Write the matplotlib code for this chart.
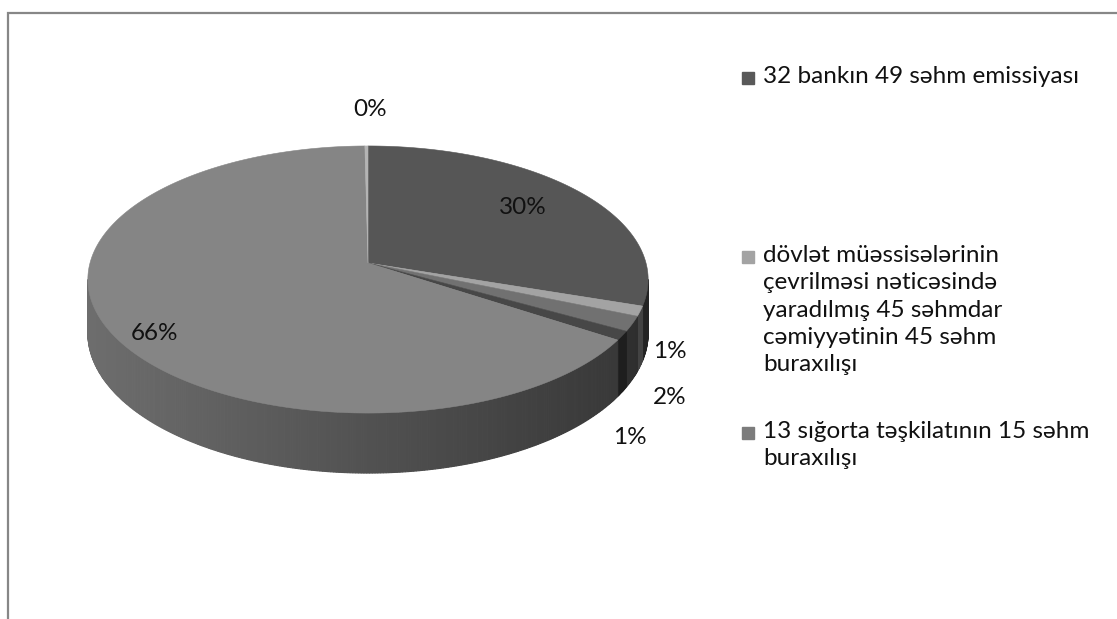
import numpy as np
import matplotlib
matplotlib.use("Agg")
import matplotlib.pyplot as plt
from matplotlib.patches import Polygon

plt.rcParams['font.family'] = ['Lato', 'Open Sans', 'DejaVu Sans']

# slice shares in percent, clockwise from 12 o'clock
shares = [30.1, 1.2, 1.8, 1.1, 65.6, 0.2]
top_colors = ['#565656', '#a3a3a3', '#717171', '#474747', '#858585', '#b4b4b4']

legend_labels = [
    "32 bankın 49 səhm emissiyası",
    "dövlət müəssisələrinin\nçevrilməsi nəticəsində\nyaradılmış 45 səhmdar\ncəmiyyətinin 45 səhm\nburaxılışı",
    "13 sığorta təşkilatının 15 səhm\nburaxılışı",
]
legend_colors = ['#595959', '#a3a3a3', '#7c7c7c']

# where each percentage label sits (pixel coords)
label_xy = [(523, 207), (670, 352), (670, 397), (630, 437), (155, 333), (370, 110)]
legend_y = [78, 257, 433]

# tilted disc with a touch of perspective
CX, CY = 368, 263
A, B, K, H = 278, 131.5, 0.1236, 52.6


def project(theta, depth=0.0):
    t = np.radians(theta)
    u, v = np.sin(t), np.cos(t)
    d = 1 + K * v
    return CX + A * u / d, CY + (-B * v + depth) / d


def shade(color, x):
    f = 0.82 - 0.42 * (x - 90) / 560
    f = max(f, 0.38)
    rgb = np.array(matplotlib.colors.to_rgb(color)) * f
    return tuple(rgb)


fig = plt.figure(figsize=(11.17, 6.19), dpi=100)
ax = fig.add_axes([0, 0, 1, 1])
ax.set_xlim(0, 1117)
ax.set_ylim(619, 0)
ax.axis('off')

# chart frame
ax.plot([8, 8, 1130], [640, 13, 13], color='#878787', lw=1.6, solid_joinstyle='miter')

bounds = np.concatenate([[0], np.cumsum(shares)]) * 3.6
vis0 = np.degrees(np.arccos(-K))
vis1 = 360 - vis0

# outer wall, front half only
for i, col in enumerate(top_colors):
    a0, a1 = max(bounds[i], vis0), min(bounds[i + 1], vis1)
    if a1 <= a0:
        continue
    n = max(int((a1 - a0) / 0.5), 1)
    ts = np.linspace(a0, a1, n + 1)
    for t0, t1 in zip(ts[:-1], ts[1:]):
        x0, y0 = project(t0)
        x1, y1 = project(t1)
        x2, y2 = project(t1, H)
        x3, y3 = project(t0, H)
        c = shade(col, (x0 + x1) / 2)
        ax.add_patch(Polygon([(x0, y0), (x1, y1), (x2, y2), (x3, y3)],
                             closed=True, facecolor=c, edgecolor=c, lw=0.8))

# top faces
for i, col in enumerate(top_colors):
    ts = np.linspace(bounds[i], bounds[i + 1], max(int((bounds[i + 1] - bounds[i]) / 0.5), 2) + 1)
    xs, ys = project(ts)
    pts = [(CX, CY)] + list(zip(xs, ys))
    ax.add_patch(Polygon(pts, closed=True, facecolor=col, edgecolor=col, lw=0.4))

# percentage labels
for s, (lx, ly) in zip(shares, label_xy):
    ax.text(lx, ly, f"{s:.0f}%", ha='center', va='center', fontsize=17.5, color='#111111')

# legend
for lab, col, ly in zip(legend_labels, legend_colors, legend_y):
    ax.plot([748], [ly], marker='s', markersize=8.6, color=col, mec=col)
    ax.text(763, ly - 12, lab, ha='left', va='top', fontsize=17.5,
            color='#111111', linespacing=1.37)

fig.savefig("out.png", dpi=100)
